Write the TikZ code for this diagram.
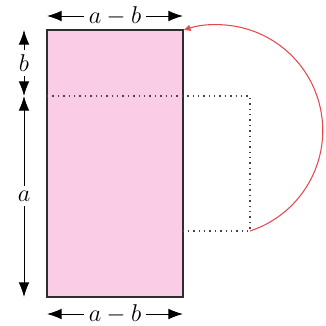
\documentclass[tikz,border=0pt]{standalone}
\usepackage{amsmath,amssymb}
\usepackage{tikz}
\usetikzlibrary{arrows.meta,positioning,calc}
\usepackage{xcolor}
\definecolor{SheetPink}{HTML}{FBCCE5}
\definecolor{EdgeGray}{HTML}{2E2E2E}
\definecolor{DotGray}{HTML}{454545}
\definecolor{FoldRed}{HTML}{E5484D}

\begin{document}
\begin{tikzpicture}[x=0.03cm, y=-0.03cm,
    sheet/.style={draw=EdgeGray, fill=SheetPink, line width=1.1pt},
    fold/.style={draw=DotGray, line width=1.7pt, dash pattern=on 1.2pt off 3.4pt},
    turn/.style={draw=FoldRed, line width=0.9pt, -{Latex[length=2.2mm, width=2mm]}},
    dim/.style={-{Latex[length=4.4mm, width=3.2mm]}, line width=0.8pt},
    dimlabel/.style={inner xsep=4pt, inner ysep=4pt, font=\fontsize{19.5}{24}\selectfont},
    toplabel/.style={dimlabel, inner ysep=0.5pt}
  ]
    \useasboundingbox (0, 0) rectangle (326, 325);

    % corners of the sheet
    \coordinate (tl) at (47, 30);
    \coordinate (tr) at (183, 30);
    \coordinate (bl) at (47, 297);
    \coordinate (br) at (183, 297);
    % fold line and flipped part
    \coordinate (fl) at (47, 96);
    \coordinate (fr) at (250, 96);
    \coordinate (fbr) at (250, 231);
    \coordinate (fbl) at (183, 231);

    \draw[sheet] (tl) rectangle (br);
    \draw[fold] (fl) -- (fr) -- (fbr) -- (fbl);
    \draw[turn] (fbr) arc[start angle=71.8, end angle=-108.6, radius=105.8];

    % dimension labels
    \node[toplabel] (toplab) at (115, 16) {$a-b$};
    \node[toplabel] (botlab) at (115, 314) {$a-b$};
    \node[dimlabel] (blab) at (24, 63) {$b$};
    \node[dimlabel] (alab) at (24, 196) {$a$};

    % dimension arrows
    \coordinate (topl) at (47, 16);
    \coordinate (topr) at (183, 16);
    \coordinate (botl) at (47, 314);
    \coordinate (botr) at (183, 314);
    \coordinate (sb1) at (24, 30);
    \coordinate (sb2) at (24, 96);
    \coordinate (sa2) at (24, 297);

    \draw[dim] (toplab) -- (topl);
    \draw[dim] (toplab) -- (topr);
    \draw[dim] (botlab) -- (botl);
    \draw[dim] (botlab) -- (botr);
    \draw[dim] (blab) -- (sb1);
    \draw[dim] (blab) -- (sb2);
    \draw[dim] (alab) -- (sb2);
    \draw[dim] (alab) -- (sa2);
  \end{tikzpicture}
\end{document}
